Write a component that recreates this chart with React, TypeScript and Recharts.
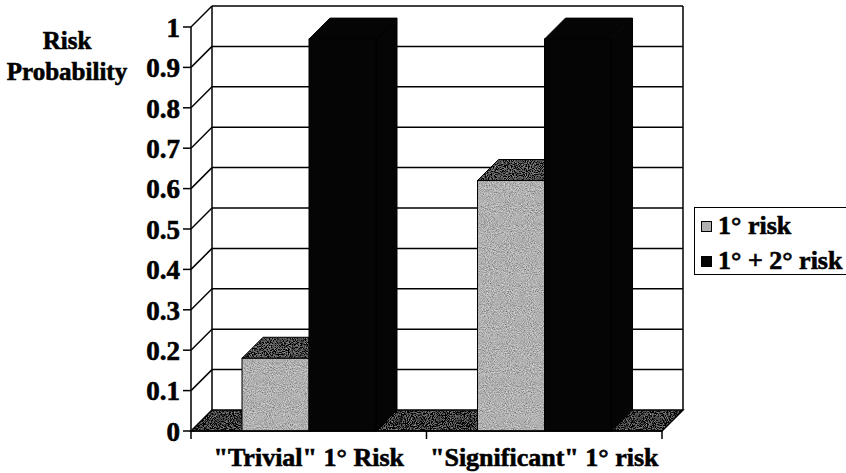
import React from 'react';
import { BarChart, Bar, XAxis, YAxis, CartesianGrid, Legend } from 'recharts';

const categories = ['"Trivial" 1° Risk', '"Significant" 1° risk'];
const primaryRisk = [0.18, 0.62];
const combinedRisk = [0.97, 0.97];
const yTicks = [0, 0.1, 0.2, 0.3, 0.4, 0.5, 0.6, 0.7, 0.8, 0.9, 1];
const seriesNames = ['1° risk', '1° + 2° risk'];
const yAxisTitle = ['Risk', 'Probability'];

const data = categories.map((name, i) => ({
  name,
  primary: primaryRisk[i],
  combined: combinedRisk[i],
}));

const DX = 21;
const DY = -21;
const FONT = "Liberation Serif, Tinos, Times New Roman, Times, serif";
const LIGHT = '#b0b0b0';
const LIGHT_TOP = '#4a4a4a';
const DARK = '#050505';
const FLOOR = '#3a3a3a';
const TEXT_STROKE = 0.6;

const GrainDefs = () => (
  <defs>
    <filter id="grain" x="0" y="0" width="100%" height="100%" filterUnits="objectBoundingBox">
      <feTurbulence type="fractalNoise" baseFrequency="0.95" numOctaves="2" seed="7" result="noise" />
      <feColorMatrix
        in="noise"
        type="matrix"
        values="1 0 0 0 0  1 0 0 0 0  1 0 0 0 0  0 0 0 0 1"
        result="gray"
      />
      <feComposite in="SourceGraphic" in2="gray" operator="arithmetic" k1="0" k2="1" k3="0.8" k4="-0.4" result="mix" />
      <feComposite in="mix" in2="SourceGraphic" operator="in" />
    </filter>
  </defs>
);

const GridLine = (props: any) => {
  const { x1, x2, y1, index } = props;
  const top = props.y;
  const bottom = props.y + props.height;
  const isBottom = Math.abs(y1 - bottom) < 0.5;
  const isTop = Math.abs(y1 - top) < 0.5;
  const k = props.key ?? `gl-${index}`;
  return (
    <g key={k}>
      {isBottom ? (
        <>
          <GrainDefs />
          <polygon
            points={`${x1},${y1} ${x2},${y1} ${x2 + DX},${y1 + DY} ${x1 + DX},${y1 + DY}`}
            fill={FLOOR}
            filter="url(#grain)"
          />
          <polygon
            points={`${x1},${y1} ${x2},${y1} ${x2 + DX},${y1 + DY} ${x1 + DX},${y1 + DY}`}
            fill="none"
            stroke="#000"
            strokeWidth={1.5}
          />
        </>
      ) : (
        <>
          <line x1={x1} y1={y1} x2={x1 + DX} y2={y1 + DY} stroke="#000" strokeWidth={1.5} />
          <line x1={x1 + DX} y1={y1 + DY} x2={x2 + DX} y2={y1 + DY} stroke="#000" strokeWidth={1.5} />
        </>
      )}
      {isTop && (
        <>
          <line x1={x1 + DX} y1={top + DY} x2={x1 + DX} y2={bottom + DY} stroke="#000" strokeWidth={1.5} />
          <line x1={x2 + DX} y1={top + DY} x2={x2 + DX} y2={bottom + DY} stroke="#000" strokeWidth={1.5} />
        </>
      )}
    </g>
  );
};

const Box3D = (props: any) => {
  const { x, y, width, height, face, topFace, sideFace, grain } = props;
  if (width == null || height == null) return null;
  const r = x + width;
  const b = y + height;
  const f = grain ? 'url(#grain)' : undefined;
  const side = `${r},${y} ${r + DX},${y + DY} ${r + DX},${b + DY} ${r},${b}`;
  const topP = `${x},${y} ${x + DX},${y + DY} ${r + DX},${y + DY} ${r},${y}`;
  return (
    <g>
      <polygon points={side} fill={sideFace} filter={f} />
      <polygon points={side} fill="none" stroke="#000" strokeWidth={1} />
      <polygon points={topP} fill={topFace} filter={f} />
      <polygon points={topP} fill="none" stroke="#000" strokeWidth={1} />
      <rect x={x} y={y} width={width} height={height} fill={face} filter={f} />
      <rect x={x} y={y} width={width} height={height} fill="none" stroke="#000" strokeWidth={1} />
    </g>
  );
};

const XTick = (props: any) => {
  const { x, y, payload, index, width } = props;
  const half = payload?.offset ?? width / categories.length / 2;
  return (
    <g>
      <line x1={x - half} y1={y} x2={x - half} y2={y + 8} stroke="#000" strokeWidth={1.5} />
      {index === categories.length - 1 && (
        <line x1={x + half} y1={y} x2={x + half} y2={y + 8} stroke="#000" strokeWidth={1.5} />
      )}
      <text
        x={x}
        y={y + 35}
        textAnchor="middle"
        style={{ fontFamily: FONT, fontWeight: 700, fontSize: 26 }}
        fill="#000"
        stroke="#000"
        strokeWidth={TEXT_STROKE}
      >
        {payload.value}
      </text>
    </g>
  );
};

const YTick = (props: any) => {
  const { x, y, payload } = props;
  return (
    <text
      x={x}
      y={y}
      dy="0.36em"
      textAnchor="end"
      style={{ fontFamily: FONT, fontWeight: 700, fontSize: 27 }}
      fill="#000"
      stroke="#000"
      strokeWidth={TEXT_STROKE}
    >
      {String(payload.value)}
    </text>
  );
};

const YTitle = (props: any) => {
  const vb = props.viewBox || { x: 0, y: 27 };
  return (
    <text
      style={{ fontFamily: FONT, fontWeight: 700, fontSize: 25 }}
      fill="#000"
      stroke="#000"
      strokeWidth={TEXT_STROKE}
      textAnchor="middle"
    >
      <tspan x={vb.x + 67} y={vb.y + 22}>{yAxisTitle[0]}</tspan>
      <tspan x={vb.x + 67} y={vb.y + 53}>{yAxisTitle[1]}</tspan>
    </text>
  );
};

const LegendBox = () => {
  const colors = [LIGHT, DARK];
  return (
    <div
      style={{
        border: '1.5px solid #000',
        borderRight: 'none',
        width: 152,
        height: 68,
        boxSizing: 'border-box',
        fontFamily: FONT,
        fontWeight: 700,
        fontSize: 26,
        color: '#000',
        position: 'relative',
        background: '#fff',
        WebkitTextStroke: `${TEXT_STROKE}px #000`,
      }}
    >
      {seriesNames.map((n, i) => (
        <div
          key={n}
          style={{
            position: 'absolute',
            left: 6,
            top: 3 + i * 35,
            height: 30,
            display: 'flex',
            alignItems: 'center',
            whiteSpace: 'nowrap',
            lineHeight: '30px',
          }}
        >
          <span
            style={{
              display: 'inline-block',
              width: 9,
              height: 9,
              background: colors[i],
              border: '1px solid #000',
              marginRight: 6,
            }}
          />
          {n}
        </div>
      ))}
    </div>
  );
};

export default function App() {
  return (
    <div style={{ width: 846, height: 473, background: '#fff' }}>
      <style>{'body{margin:0;background:#fff}'}</style>
      <BarChart
        width={846}
        height={473}
        data={data}
        margin={{ top: 27, right: 184, bottom: 2, left: 0 }}
        barGap={0}
        barSize={67}
      >
        <CartesianGrid vertical={false} horizontal={GridLine as any} />
        <XAxis
          dataKey="name"
          height={40}
          tickSize={0}
          tickMargin={0}
          tickLine={false}
          axisLine={{ stroke: '#000', strokeWidth: 1.5 }}
          tick={<XTick />}
          interval={0}
        />
        <YAxis
          width={191}
          domain={[0, 1]}
          ticks={yTicks}
          interval={0}
          tickSize={8}
          tickMargin={3}
          tickLine={{ stroke: '#000', strokeWidth: 1.5 }}
          axisLine={{ stroke: '#000', strokeWidth: 1.5 }}
          tick={<YTick />}
          label={<YTitle />}
        />
        <Legend
          layout="horizontal"
          align="center"
          verticalAlign="middle"
          content={<LegendBox />}
          wrapperStyle={{ position: 'absolute', left: 694, top: 207, width: 152, height: 68 }}
        />
        <Bar
          dataKey="primary"
          name={seriesNames[0]}
          fill={LIGHT}
          isAnimationActive={false}
          shape={(p: any) => <Box3D {...p} face={LIGHT} topFace={LIGHT_TOP} sideFace="#777" grain />}
        />
        <Bar
          dataKey="combined"
          name={seriesNames[1]}
          fill={DARK}
          isAnimationActive={false}
          shape={(p: any) => <Box3D {...p} face={DARK} topFace={DARK} sideFace={DARK} />}
        />
      </BarChart>
    </div>
  );
}
